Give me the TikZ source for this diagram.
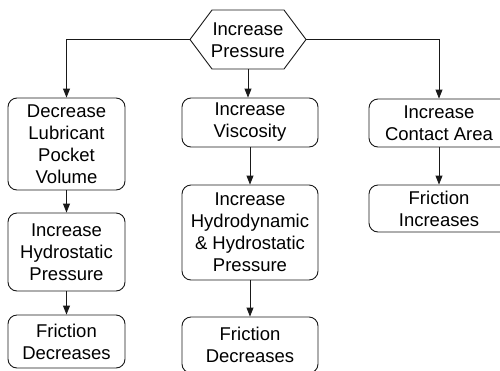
\documentclass[tikz,border=0pt]{standalone}
\usepackage{fontspec}
\setmainfont{Liberation Sans}
\usetikzlibrary{arrows.meta}

\tikzset{
  edge/.style={draw=black!90, line width=0.9pt},
  flowbox/.style={edge, rectangle, rounded corners=9pt, align=center,
    inner sep=0pt, font=\fontsize{18.5}{22}\selectfont, text=black},
  hexlabel/.style={align=center, inner sep=0pt,
    font=\fontsize{18.5}{22}\selectfont, text=black},
  arrow/.style={edge, -{Triangle[length=9pt,width=7pt]}},
}

\begin{document}
\begin{tikzpicture}[x=1pt, y=-1pt]
  \useasboundingbox (0,0) rectangle (500,370);
  \clip (0,0) rectangle (500,370);

  % top hexagon
  \node[hexlabel] (top) at (248,40.5) {Increase\\Pressure};
  \coordinate (hexW) at (190,39.5);
  \coordinate (hexE) at (306,39.5);
  \coordinate (hexS) at (248,69);
  \draw[edge] (hexW) -- (212,10) -- (284,10) -- (hexE) -- (284,69) -- (212,69) -- cycle;

  % left column
  \node[flowbox, minimum width=117pt, minimum height=92pt] (L1) at (66.5,144)
    {Decrease\\Lubricant\\Pocket\\Volume};
  \node[flowbox, minimum width=117pt, minimum height=78pt] (L2) at (66.5,252)
    {Increase\\Hydrostatic\\Pressure};
  \node[flowbox, minimum width=117pt, minimum height=53pt] (L3) at (66.5,341.5)
    {Friction\\Decreases};

  % middle column
  \node[flowbox, minimum width=136pt, minimum height=49pt] (M1) at (250,122.5)
    {Increase\\Viscosity};
  \node[flowbox, minimum width=136pt, minimum height=95pt] (M2) at (250,232.5)
    {Increase\\Hydrodynamic\\\& Hydrostatic\\Pressure};
  \node[flowbox, minimum width=136pt, minimum height=56pt] (M3) at (250,345)
    {Friction\\Decreases};

  % right column (runs past the right edge)
  \node[flowbox, minimum width=140pt, minimum height=48pt] (R1) at (439,123)
    {Increase\\Contact Area};
  \node[flowbox, minimum width=140pt, minimum height=47pt] (R2) at (439,208.5)
    {Friction\\Increases};

  % connectors
  \draw[arrow] (hexW) -| (L1.north);
  \draw[arrow] (hexS) -- (hexS |- M1.north);
  \draw[arrow] (hexE) -| (R1.north);
  \draw[arrow] (L1) -- (L2);
  \draw[arrow] (L2) -- (L3);
  \draw[arrow] (M1) -- (M2);
  \draw[arrow] (M2) -- (M3);
  \draw[arrow] (R1) -- (R2);
\end{tikzpicture}
\end{document}
